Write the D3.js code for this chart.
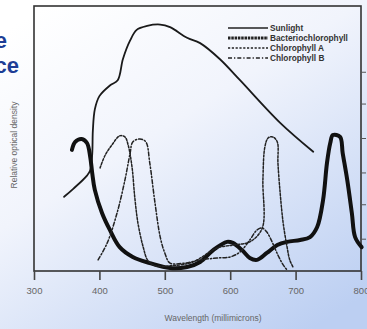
<!DOCTYPE html>
<html><head><meta charset="utf-8">
<script src="https://cdn.jsdelivr.net/npm/d3@7"></script>
<style>html,body{margin:0;padding:0;overflow:hidden;}svg{display:block;}</style>
</head><body>
<svg id="c" width="367" height="329"></svg>
<script>
// ---- data ----
const xTicks = [300, 400, 500, 600, 700, 800];
const seriesNames = ["Sunlight", "Bacteriochlorophyll", "Chlorophyll A", "Chlorophyll B"];
const sunWl  = [346,360,381,386,389,390,393,400,416,428,436,447,457,473,493,508,534,554,584,615,676,727];
const sunVal = [28,31,36,38,44,53,61,66,70,72,80,87,91,92.5,93,92,88,86,80,72,56,45];
const bactWl  = [358,363,373,381,386,389,393,404,416,431,451,477,508,534,554,574,595,604,618,630,641,656,672,687,707,722,733,742,748,753,757,768,772,779,786,791,801];
const bactVal = [45.7,48.7,49.8,48.3,43,37,30.6,21.9,15.5,9,5.3,3,1.1,1.5,3.4,7.9,11,10.6,7.9,4.9,4.2,6.8,9.8,11,11.7,12.8,16.6,26.8,40.8,48.3,51.3,50.6,44.5,34.3,21.9,12.8,9];
const chlAWl  = [401,409,419,431,439,444,450,454,459,467,474,485,510,543,580,604,630,649,650,653,658,665,672,673,676,681,687,691,696];
const chlAVal = [38.9,43.8,47.5,51,50.6,47.5,39,28,18,9,4,2,2,3.4,8.7,9.8,11,16.2,34.3,46.8,50.2,50.6,48.7,40.8,30.6,18.1,9,4.2,1.5];
const chlBWl  = [398,412,427,439,447,451,462,471,477,485,493,500,508,531,554,580,600,615,630,641,649,656,664,673,681,687];
const chlBVal = [4.2,10.6,21.9,34.3,44.5,48.7,49.8,48.7,40.8,25.7,12.8,6.8,3,3,4.2,4.9,5.3,7.2,11.7,15.5,16.2,14.7,11,6,2.3,0.4];

const svg = d3.select("#c");
const defs = svg.append("defs");
const g = defs.append("linearGradient").attr("id","bg").attr("x1","0.15").attr("y1","0").attr("x2","0.85").attr("y2","1");
g.append("stop").attr("offset","0").attr("stop-color","#ffffff");
g.append("stop").attr("offset","0.4").attr("stop-color","#f1f4fc");
g.append("stop").attr("offset","1").attr("stop-color","#bccff2");
svg.append("rect").attr("width",367).attr("height",329).attr("fill","url(#bg)");

// title fragments (cropped slide title)
svg.append("text").attr("x",7).attr("y",48).attr("text-anchor","end")
  .attr("font-family","Liberation Sans, Arial, sans-serif").attr("font-weight","bold")
  .attr("font-size",22).attr("fill","#1d3d95").text("e");
svg.append("text").attr("x",19).attr("y",73).attr("text-anchor","end")
  .attr("font-family","Liberation Sans, Arial, sans-serif").attr("font-weight","bold")
  .attr("font-size",22).attr("fill","#1d3d95").text("ce");

const x = d3.scaleLinear().domain([300,800]).range([34,361]);
const y = d3.scaleLinear().domain([0,100]).range([271,6]);

// frame
svg.append("rect").attr("x",34).attr("y",6).attr("width",327).attr("height",265)
  .attr("fill","none").attr("stroke","#333").attr("stroke-width",1.6);

// right side ticks
const rTicks = [75,63,50,37,25,12];
svg.append("g").selectAll("line").data(rTicks).join("line")
  .attr("x1",361).attr("x2",366).attr("y1",d=>y(d)).attr("y2",d=>y(d))
  .attr("stroke","#555").attr("stroke-width",1);

// x axis
const ax = svg.append("g").attr("transform","translate(0,271)")
  .call(d3.axisBottom(x).tickValues(xTicks).tickSize(9).tickPadding(7).tickFormat(d3.format("d")));
ax.select(".domain").remove();
ax.selectAll(".tick line").attr("stroke","#444").attr("stroke-width",1.6);
ax.selectAll(".tick text").attr("fill","#666").attr("font-size",9.5)
  .attr("font-family","Liberation Sans, Arial, sans-serif");

svg.append("text").attr("x",213).attr("y",321).attr("text-anchor","middle")
  .attr("font-family","Liberation Sans, Arial, sans-serif").attr("font-size",8.5).attr("fill","#666")
  .text("Wavelength (millimicrons)");
svg.append("text").attr("transform","translate(17,145) rotate(-90)").attr("text-anchor","middle")
  .attr("font-family","Liberation Sans, Arial, sans-serif").attr("font-size",8.5).attr("fill","#666")
  .text("Relative optical density");

const line = d3.line().x(d=>x(d[0])).y(d=>y(d[1])).curve(d3.curveCatmullRom.alpha(0.5));
const zip = (a,b)=>a.map((v,i)=>[v,b[i]]);

const styles = [
  {w:1.8, dash:null, col:"#1a1a1a"},
  {w:4, dash:null, col:"#111"},
  {w:1.5, dash:"2.2,1.6", col:"#222"},
  {w:1.5, dash:"4,2,1.3,2", col:"#222"}
];
const data = [zip(sunWl,sunVal), zip(bactWl,bactVal), zip(chlAWl,chlAVal), zip(chlBWl,chlBVal)];
data.forEach((d,i)=>{
  svg.append("path").attr("d",line(d)).attr("fill","none")
    .attr("stroke",styles[i].col).attr("stroke-width",styles[i].w)
    .attr("stroke-dasharray",styles[i].dash).attr("stroke-linecap","round").attr("stroke-linejoin","round");
});

// legend
const lg = svg.append("g");
seriesNames.forEach((n,i)=>{
  const yy = 28 + i*10;
  lg.append("line").attr("x1",228).attr("x2",268).attr("y1",yy).attr("y2",yy)
    .attr("stroke","#222").attr("stroke-width", i===1?3.2:1.5)
    .attr("stroke-dasharray", i===1?"2.5,0.8":styles[i].dash);
  lg.append("text").attr("x",270).attr("y",yy+2.8).attr("font-size",8.3).attr("font-weight","bold")
    .attr("font-family","Liberation Sans, Arial, sans-serif").attr("fill","#333").text(n);
});
</script>
</body></html>
